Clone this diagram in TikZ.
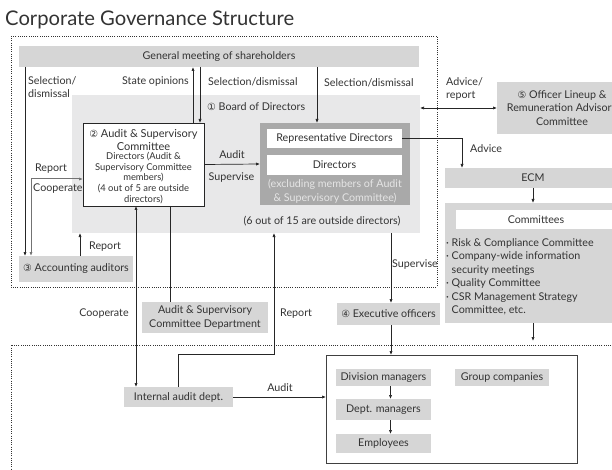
\documentclass[tikz,border=0pt]{standalone}
\usepackage{fontspec}
\setmainfont{Lato}
\newfontfamily\symf{DejaVu Sans}
\usetikzlibrary{arrows.meta}
\definecolor{txt}{HTML}{333333}
\definecolor{gA}{HTML}{D6D6D6}
\definecolor{gB}{HTML}{E8E8E9}
\definecolor{gC}{HTML}{A9A9A9}
\definecolor{lnc}{HTML}{262626}
\newcommand\circnum[1]{{\symf\fontsize{9.8}{10}\selectfont #1}}
\newcommand\fs[2]{\fontsize{#1}{#2}\selectfont}
\begin{document}
\begin{tikzpicture}[x=1pt,y=-1pt,
 box/.style={inner sep=0pt, outer sep=0pt, text=txt, align=center, font=\fs{10.7}{13.2}},
 gbox/.style={box, fill=gA},
 wbox/.style={box, fill=white},
 lbl/.style={inner sep=0pt, text=txt, font=\fs{10.7}{13.6}, align=left},
 arr/.style={draw=lnc, line width=0.7pt, -{Latex[length=4pt,width=3.2pt]}},
 arrb/.style={draw=lnc, line width=0.7pt, {Latex[length=4pt,width=3.2pt]}-{Latex[length=4pt,width=3.2pt]}},
 ln/.style={draw=lnc, line width=0.7pt},
 dotl/.style={draw=black!80, line width=0.6pt, dash pattern=on 1pt off 1.2pt}
]
\useasboundingbox (0,0) rectangle (612,470);
\clip (0,0) rectangle (612,470);

% title
\node[anchor=base west, inner sep=0pt, text=txt, font=\fs{20.2}{24}] (title) at (5,26) {Corporate Governance Structure};

% dotted regions
\draw[dotl] (11,36) rectangle (437,287);
\draw[dotl] (620,345) -- (11,345) -- (11,475);

% board area
\node[box, fill=gB, minimum width=348pt, minimum height=138pt] (board) at (246,164) {};
\node[lbl, anchor=west] (boardlbl) at (207,107) {\circnum{①} Board of Directors};
\node[lbl] (outside) at (322,221) {(6 out of 15 are outside directors)};

% shareholders
\node[gbox, minimum width=400pt, minimum height=21pt] (sh) at (219,56.5) {General meeting of shareholders};

% audit & supervisory committee
\node[wbox, draw=lnc, line width=0.7pt, minimum width=121pt, minimum height=83pt] (asc) at (143.5,164.5) {};
\node[box, font=\fs{11}{13}] (asct) at (143.5,140) {\circnum{②} Audit \& Supervisory\\Committee};
\node[box, font=\fs{9.4}{10.8}] (ascs) at (143.5,178) {Directors (Audit \&\\Supervisory Committee\\members)\\(4 out of 5 are outside\\directors)};

% directors block
\node[box, fill=gC, minimum width=150pt, minimum height=82pt] (dark) at (335,164) {};
\node[wbox, minimum width=135pt, minimum height=19pt] (repdir) at (334.5,138.5) {Representative Directors};
\node[wbox, minimum width=135pt, minimum height=20pt] (dirs) at (334.5,165) {Directors};
\node[box, text=white!90!black, font=\fs{10.7}{13.8}] (excl) at (335,191) {(excluding members of Audit\\\& Supervisory Committee)};

% officer lineup
\node[gbox, minimum width=130pt, minimum height=52pt] (officer) at (562,108) {\circnum{⑤} Officer Lineup \&\\Remuneration Advisory\\Committee};

% ECM and committees
\node[gbox, minimum width=176pt, minimum height=20pt] (ecm) at (533,178) {ECM};
\node[gbox, minimum width=176pt, minimum height=120pt] (comm) at (533,263) {};
\node[wbox, minimum width=160pt, minimum height=19pt] (commh) at (536,219.5) {Committees};
\node[lbl, anchor=north west, font=\fs{10.7}{13.4}] (commlist) at (446,238.5) {· Risk \& Compliance Committee\\· Company-wide information\\\phantom{· }security meetings\\· Quality Committee\\· CSR Management Strategy\\\phantom{· }Committee, etc.};
\coordinate (commend) at (533,341);

% accounting auditors
\node[gbox, minimum width=114pt, minimum height=26pt] (acc) at (76,269) {\circnum{③} Accounting auditors};

% executive officers
\node[gbox, minimum width=103pt, minimum height=22pt] (exec) at (388.5,314) {\circnum{④} Executive officers};

% A&SC department
\node[gbox, minimum width=126pt, minimum height=31pt] (ascdept) at (205,317.5) {Audit \& Supervisory\\Committee Department};

% internal audit
\node[gbox, minimum width=109pt, minimum height=20pt] (ia) at (178.5,397) {Internal audit dept.};
\coordinate (rp) at (274,354);

% big box
\node[wbox, draw=black!75, line width=0.8pt, minimum width=251pt, minimum height=108pt] (big) at (451.5,409) {};
\node[gbox, minimum width=95pt, minimum height=17pt] (div) at (383.5,377.5) {Division managers};
\node[gbox, minimum width=94pt, minimum height=17pt] (grp) at (502,377.5) {Group companies};
\node[gbox, minimum width=95pt, minimum height=21pt] (dept) at (383.5,409.5) {Dept. managers};
\node[gbox, minimum width=95pt, minimum height=19pt] (emp) at (383.5,443.5) {Employees};

% ---- connectors ----
\draw[arr] ([xshift=6pt]sh.south west) -- ([xshift=6pt]acc.north west);
\draw[arrb, draw=black!55, line width=1pt] ([xshift=12pt]acc.north west) |- ([yshift=-14.5pt]asc.west);
\draw[arr] ([xshift=4pt]acc.north) -- ([xshift=4pt]acc.north |- board.south);
\draw[arr] ([xshift=49.5pt]asc.north) -- ([xshift=49.5pt]asc.north |- sh.south);
\draw[arr] ([xshift=56.5pt]asc.north |- sh.south) -- ([xshift=56.5pt]asc.north);
\draw[arr] ([xshift=-18pt]dark.north |- sh.south) -- ([xshift=-18pt]dark.north);
\draw[arr] (asc.east) -- (dark.west);
\draw[arrb] (board.east |- officer.west) -- (officer.west);
\draw[arr] (repdir.east) -| ([xshift=-71pt]ecm.north);
\draw[arr] (ecm.south) -- (comm.north);
\draw[arr] (comm.south) -- (commend);
\draw[arr] ([xshift=2.5pt]exec.north |- board.south) -- ([xshift=2.5pt]exec.north);
\draw[arr] ([xshift=2.5pt]exec.south) -- ([xshift=2.5pt]exec.south |- big.north);
\draw[ln] ([xshift=26.5pt]asc.south) -- ([xshift=26.5pt]asc.south |- ascdept.north);
\draw[arrb] ([xshift=-7.5pt]asc.south) -- ([xshift=-7.5pt]asc.south |- ia.north);
\draw[arr] (ia.north) |- (rp) -- (rp |- board.south);
\draw[arr] (ia.east) -- (ia.east -| big.west);
\draw[arr] ([xshift=7pt]div.south) -- ([xshift=7pt]dept.north);
\draw[arr] ([xshift=7pt]dept.south) -- ([xshift=7pt]emp.north);

% ---- labels ----
\node[lbl, anchor=north west] (l1) at (28,76) {Selection/\\dismissal};
\node[lbl, anchor=east] (l2) at (189,82) {State opinions};
\node[lbl, anchor=west] (l3) at (208,82) {Selection/dismissal};
\node[lbl, anchor=west] (l4) at (324,83) {Selection/dismissal};
\node[lbl] (l5) at (232,155) {Audit};
\node[lbl] (l6) at (231.5,178) {Supervise};
\node[lbl] (l7) at (51,169) {Report};
\node[lbl, anchor=west] (l8) at (33,189) {Cooperate};
\node[lbl, anchor=west] (l9) at (89,247) {Report};
\node[lbl, anchor=north west] (l10) at (446,77) {Advice/\\report};
\node[lbl, anchor=west] (l11) at (470,149) {Advice};
\node[lbl, anchor=west] (l12) at (392,265) {Supervise};
\node[lbl] (l13) at (104,314) {Cooperate};
\node[lbl, anchor=west] (l14) at (280,314) {Report};
\node[lbl] (l15) at (280,388) {Audit};
\end{tikzpicture}
\end{document}
